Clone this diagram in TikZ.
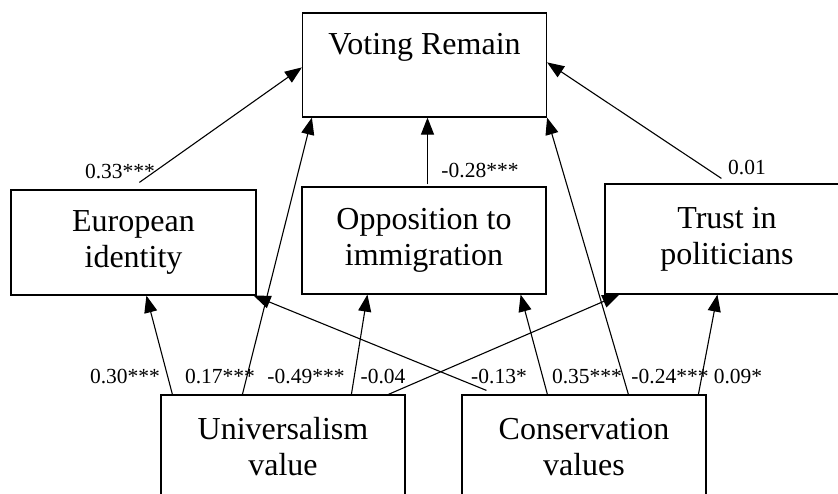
\documentclass[tikz,border=0pt]{standalone}
\usepackage{fontspec}
\setmainfont{Liberation Serif}
\usetikzlibrary{arrows.meta,calc}
\tikzset{
  boxst/.style={draw, line width=1.2pt, minimum width=244pt, inner sep=0pt, align=center,
    font=\fontsize{32}{36}\selectfont},
  maintext/.style={inner sep=0pt, font=\fontsize{32}{36}\selectfont},
  coef/.style={inner sep=0pt, anchor=base, font=\fontsize{21.5}{24}\selectfont},
  conn/.style={line width=1.1pt, -{Triangle[length=17pt,width=13pt]}},
  plain/.style={line width=1.1pt}
}
\begin{document}
\begin{tikzpicture}[x=1pt,y=-1pt]
\clip (0,0) rectangle (838,494);
\fill[white] (0,0) rectangle (838,494);
% boxes
\node[boxst, minimum height=104pt] (vr) at (424.5,65) {};
\node[maintext, anchor=base] (vrt) at (424.5,55) {Voting Remain};
\node[boxst, minimum height=105pt, minimum width=245pt] (ei) at (133.5,242.5) {European\\identity};
\node[boxst, minimum height=107pt] (oi) at (424,240.5) {Opposition to\\immigration};
\node[boxst, minimum height=110pt] (tp) at (727,239) {Trust in\\politicians};
\node[boxst, minimum height=104pt] (uv) at (283,447) {Universalism\\value};
\node[boxst, minimum height=104pt] (cv) at (584,447) {Conservation\\values};
% connectors to Voting Remain
\draw[conn] ($(ei.north west)+(129,-7)$) -- ($(vr.north west)+(0,55)$);
\draw[conn] ($(uv.north west)+(82,0)$) -- ($(vr.south west)+(10,0)$);
\draw[conn] ($(oi.north)+(3.5,-2)$) -- ($(vr.south)+(3,0)$);
\draw[conn] ($(cv.north west)+(167,0)$) -- (vr.south east);
\draw[conn] ($(tp.north west)+(117,-5)$) -- ($(vr.north east)+(0,50)$);
% connectors from Universalism
\draw[conn] ($(uv.north west)+(12,0)$) -- ($(ei.south west)+(136,0)$);
\draw[conn] ($(uv.north west)+(191,0)$) -- ($(oi.south west)+(66,0)$);
\draw[conn] ($(uv.north west)+(228,0)$) -- ($(tp.south west)+(15,0)$);
% connectors from Conservation
\draw[conn] ($(cv.north west)+(25,-4)$) -- ($(ei.south east)+(-3,0)$);
\draw[conn] ($(cv.north west)+(86,0)$) -- ($(oi.south east)+(-26,0)$);
\draw[conn] ($(cv.north west)+(237,0)$) -- ($(tp.south west)+(113,0)$);
% coefficients
\node[coef] (c1) at (120,179) {0.33***};
\node[coef] (c2) at (480,178) {-0.28***};
\node[coef] (c3) at (747,175) {0.01};
\node[coef] (c4) at (125,383) {0.30***};
\node[coef] (c5) at (220,383) {0.17***};
\node[coef] (c6) at (306,383) {-0.49***};
\node[coef] (c7) at (383,383) {-0.04};
\node[coef] (c8) at (499,383) {-0.13*};
\node[coef] (c9) at (587,383) {0.35***};
\node[coef] (c10) at (670,383) {-0.24***};
\node[coef] (c11) at (738,383) {0.09*};
\end{tikzpicture}
\end{document}
